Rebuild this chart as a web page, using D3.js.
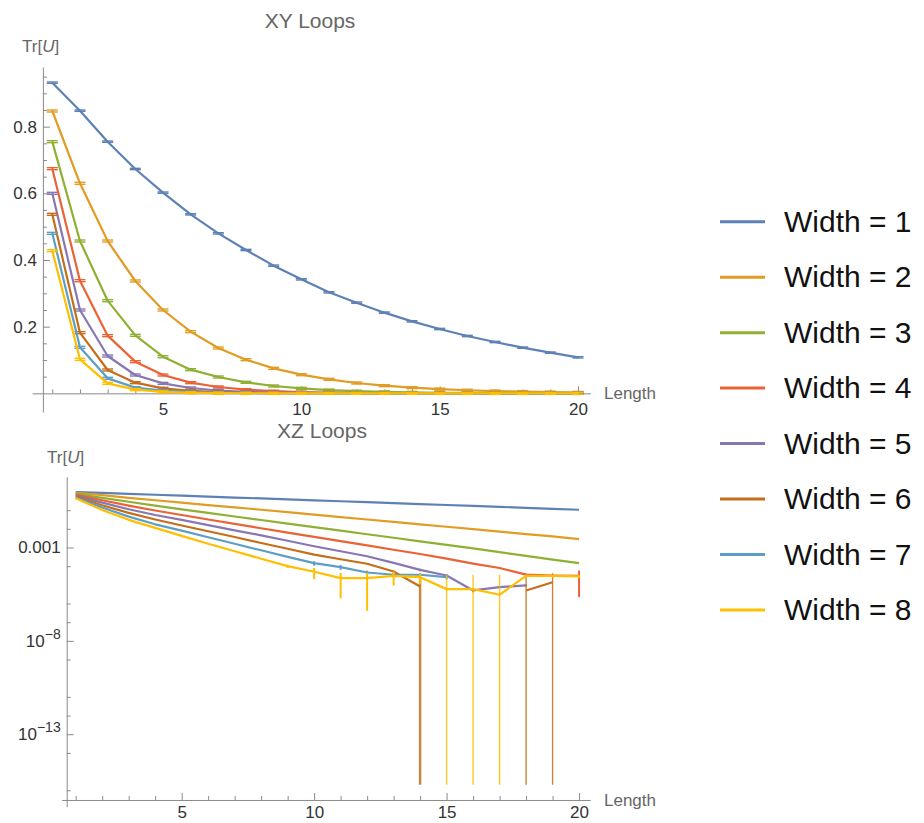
<!DOCTYPE html>
<html><head><meta charset="utf-8">
<script src="https://cdn.jsdelivr.net/npm/d3@7"></script>
<style>
body{margin:0;background:#fff}
svg{display:block}
text{font-family:"Liberation Sans",Arial,sans-serif}
</style>
</head><body>
<svg id="c" width="924" height="823"></svg>
<script>
// ---------------- DATA ----------------
const lengths = [1,2,3,4,5,6,7,8,9,10,11,12,13,14,15,16,17,18,19,20];
const widthLabels = ["Width = 1","Width = 2","Width = 3","Width = 4","Width = 5","Width = 6","Width = 7","Width = 8"];

// XY loops (linear axis)
const xyW1 = [0.932,0.848,0.755,0.673,0.602,0.537,0.48,0.43,0.383,0.342,0.303,0.272,0.242,0.216,0.193,0.172,0.154,0.137,0.122,0.108];
const xyW2 = [0.847,0.63,0.457,0.337,0.25,0.185,0.136,0.101,0.075,0.056,0.042,0.031,0.023,0.017,0.0126,0.0093,0.0069,0.0051,0.0038,0.0028];
const xyW3 = [0.755,0.457,0.278,0.174,0.11,0.071,0.049,0.033,0.022,0.015,0.0098,0.0064,0.0042,0.0027,0.0018,0.0012,0.0008,0.0005,0.0003,0.0002];
const xyW4 = [0.674,0.338,0.173,0.095,0.055,0.032,0.019,0.011,0.0064,0.0037,0.0022,0.0013,0.0008,0.0005,0.0003,0.0002,0.0001,0.00004,0.00003,0.00003];
const xyW5 = [0.60,0.25,0.112,0.055,0.03,0.016,0.0085,0.0045,0.0023,0.0012,0.0006,0.0003,0.00015,0.00006,0.00003,0.00001,0.00001,0.00001,0,0];
const xyW6 = [0.537,0.182,0.07,0.032,0.015,0.0074,0.0036,0.0017,0.0009,0.0004,0.0002,0.0001,0.00005,0.00001,0,0,0,0,0.00001,0];
const xyW7 = [0.48,0.138,0.045,0.017,0.008,0.0036,0.0016,0.0007,0.0003,0.00015,0.00009,0.00005,0.00003,0.00003,0.00003,0,0,0,0,0];
const xyW8 = [0.428,0.102,0.03,0.011,0.0042,0.0016,0.0006,0.00025,0.0001,0.00005,0.00002,0.00002,0.00003,0.00003,0.00001,0.00001,0,0.00003,0.00003,0.00003];
const xyErrByWidth = [0.002,0.003,0.003,0.003,0.003,0.003,0.003,0.003];

// XZ loops (log axis); null = non-positive value, not drawn on log scale
const xzW1 = [0.93,0.84,0.75,0.668,0.595,0.53,0.473,0.422,0.376,0.335,0.298,0.266,0.237,0.211,0.188,0.168,0.149,0.133,0.118,0.105];
const xzW2 = [0.851,0.631,0.457,0.339,0.251,0.186,0.141,0.105,0.0776,0.0575,0.0427,0.0316,0.0234,0.0174,0.0129,0.00955,0.00708,0.00525,0.00389,0.00282];
const xzW3 = [0.759,0.457,0.282,0.174,0.110,0.0708,0.0457,0.0295,0.0191,0.0123,0.00794,0.00513,0.00331,0.00214,0.00138,8.91e-4,5.62e-4,3.55e-4,2.24e-4,1.45e-4];
const xzW4 = [0.676,0.339,0.174,0.0955,0.0550,0.0316,0.0182,0.0107,0.00631,0.00372,0.00219,0.00129,7.59e-4,4.47e-4,2.51e-4,1.38e-4,7.94e-5,3.55e-5,3.16e-5,3.02e-5];
const xzW5 = [0.603,0.251,0.112,0.0550,0.0302,0.0158,0.00832,0.00447,0.00229,0.00117,6.31e-4,3.39e-4,1.51e-4,6.31e-5,3.16e-5,5.01e-6,7.59e-6,9.33e-6,null,null];
const xzW6 = [0.537,0.182,0.0708,0.0316,0.0151,0.00741,0.00363,0.00174,8.51e-4,4.17e-4,2.34e-4,1.35e-4,5.13e-5,8.13e-6,null,null,null,5.01e-6,1.38e-5,null];
const xzW7 = [0.479,0.138,0.0447,0.0174,0.00794,0.00355,0.00158,7.08e-4,3.16e-4,1.45e-4,8.91e-5,4.57e-5,3.47e-5,3.47e-5,2.57e-5,null,null,null,null,null];
const xzW8 = [0.427,0.102,0.0302,0.0112,0.00417,0.00158,6.31e-4,2.51e-4,1.0e-4,5.01e-5,2.29e-5,2.29e-5,3.02e-5,2.57e-5,5.89e-6,5.89e-6,2.95e-6,3.02e-5,3.02e-5,2.82e-5];

const xzErr1 = [0,0,0,0,0,0,0,0,0,0,0,0,0,0,0,0,0,0,0,0];
const xzErr2 = [0,0,0,0,0,0,0,0,0,0,0,0,0,0,0,0,0,0,0,0];
const xzErr3 = [0,0,0,0,0,0,0,0,0,0,0,0,0,0,0,0,0,0,0,0];
const xzErr4 = [0,0,0,0,0,0,0,0,0,0,0,0,0,0,0,0,0,0,0,2.8e-5];
const xzErr5 = [0,0,0,0,0,0,0,0,0,0,0,0,1e-5,1e-5,6e-6,1e-6,1e-6,1e-6,0,0];
const xzErr6 = [0,0,0,0,0,0,0,0,0,0,0,8e-6,6e-6,1.2e-5,0,0,0,3.7e-5,2.8e-5,0];
const xzErr7 = [0,0,0,0,0,0,0,0,1e-5,4e-5,2.5e-5,1.2e-5,8e-6,8e-6,6e-6,0,0,0,0,0];
const xzErr8 = [0,0,0,0,0,0,0,0,2e-5,3e-5,2.1e-5,2.25e-5,2.1e-5,1.5e-5,2.9e-5,2.9e-5,3.2e-5,5e-6,5e-6,5e-6];

const xTicksMinor = [1,2,3,4,6,7,8,9,11,12,13,14,16,17,18,19];
const xTicksMajor = [5,10,15,20];
const xyYTicksMinor = [0.05,0.1,0.15,0.25,0.3,0.35,0.45,0.5,0.55,0.65,0.7,0.75,0.85,0.9,0.95];
const xyYTicksMajor = [0.2,0.4,0.6,0.8];
const xzYTicksMinor = [1e-1,1e-2,1e-4,1e-6,1e-7,1e-9,1e-11,1e-12,1e-14,1e-16];
const xzYTicksMajor = [1e-3,1e-8,1e-13];
const xzYTickLabels = [["0.001",""],["10","\u22128"],["10","\u221213"]];

const colors = ["#5E81B5","#E19C24","#8FB032","#EB6235","#8778B3","#C56E1A","#5D9EC7","#FFBF00"];

const xySeries = [xyW1,xyW2,xyW3,xyW4,xyW5,xyW6,xyW7,xyW8];
const xzSeries = [xzW1,xzW2,xzW3,xzW4,xzW5,xzW6,xzW7,xzW8];
const xzErrors = [xzErr1,xzErr2,xzErr3,xzErr4,xzErr5,xzErr6,xzErr7,xzErr8];

// ---------------- DRAW ----------------
const svg = d3.select('#c');
const axisColor = "#8a8a8a", labelColor = "#666", tickTextColor = "#333";

function styleAxis(g){
  g.selectAll('path.domain').attr('stroke', axisColor).attr('stroke-width',1);
  g.selectAll('.tick line').attr('stroke', axisColor).attr('stroke-width',1);
  g.selectAll('.tick text').attr('fill', tickTextColor).attr('font-size',17)
    .attr('font-family','"Liberation Sans",Arial,sans-serif');
}

// ===== TOP: XY Loops =====
const xT = d3.scaleLinear().domain([0.27, 20.45]).range([32.1, 590.45]);
const yT = d3.scaleLinear().domain([-0.056, 0.979]).range([412, 67]);
const topG = svg.append('g');

const gxT = topG.append('g').attr('transform',`translate(0,${yT(0)})`);
gxT.call(d3.axisBottom(xT).tickValues(xTicksMinor).tickSize(-4).tickSizeOuter(0).tickFormat(''));
const gxT2 = topG.append('g').attr('transform',`translate(0,${yT(0)})`);
gxT2.call(d3.axisBottom(xT).tickValues(xTicksMajor).tickSize(-7).tickSizeOuter(0).tickPadding(10));
gxT2.select('path.domain').remove();
styleAxis(gxT); styleAxis(gxT2);

const gyT = topG.append('g').attr('transform',`translate(${xT(0.66)},0)`);
gyT.call(d3.axisLeft(yT).tickValues(xyYTicksMinor).tickSize(-4).tickSizeOuter(0).tickFormat(''));
const gyT2 = topG.append('g').attr('transform',`translate(${xT(0.66)},0)`);
gyT2.call(d3.axisLeft(yT).tickValues(xyYTicksMajor).tickSize(-7).tickSizeOuter(0).tickPadding(6).tickFormat(d3.format('.1f')));
gyT2.select('path.domain').remove();
styleAxis(gyT); styleAxis(gyT2);

const lineT = d3.line().x((d,i)=>xT(lengths[i])).y(d=>yT(d));
xySeries.forEach((s,k)=>{
  topG.append('path').attr('d', lineT(s)).attr('fill','none')
    .attr('stroke', colors[k]).attr('stroke-width',2.2).attr('stroke-linejoin','round');
  const e = xyErrByWidth[k];
  s.forEach((v,i)=>{
    const cx = xT(lengths[i]);
    [v-e, v+e].forEach(vv=>{
      topG.append('line').attr('x1',cx-5.5).attr('x2',cx+5.5).attr('y1',yT(vv)).attr('y2',yT(vv))
        .attr('stroke',colors[k]).attr('stroke-width',1.4);
    });
    topG.append('line').attr('x1',cx).attr('x2',cx).attr('y1',yT(v-e)).attr('y2',yT(v+e))
      .attr('stroke',colors[k]).attr('stroke-width',1.4);
  });
});

topG.append('text').attr('x',310).attr('y',28).attr('text-anchor','middle')
  .attr('font-size',21).attr('fill',labelColor).text('XY Loops');
const trT = topG.append('text').attr('x',22).attr('y',52).attr('font-size',17).attr('fill',labelColor);
trT.append('tspan').text('Tr[');
trT.append('tspan').attr('font-style','italic').text('U');
trT.append('tspan').text(']');
topG.append('text').attr('x',604).attr('y',yT(0)+6).attr('font-size',17).attr('fill',labelColor).text('Length');

// ===== BOTTOM: XZ Loops =====
const xB = d3.scaleLinear().domain([0.47, 20.42]).range([61.66, 590.2]);
const yB = d3.scaleLog().domain([Math.pow(10,-16.88), Math.pow(10,0.79)]).range([806.7, 476.7]);
const botG = svg.append('g');
const xAxisY = yB(Math.pow(10,-16.52));
const plotBottom = yB(Math.pow(10,-15.7));

svg.append('defs').append('clipPath').attr('id','clipB')
  .append('rect').attr('x',55).attr('y',470).attr('width',560).attr('height',plotBottom-470);

const gxB = botG.append('g').attr('transform',`translate(0,${xAxisY})`);
gxB.call(d3.axisBottom(xB).tickValues(xTicksMinor).tickSize(-4).tickSizeOuter(0).tickFormat(''));
const gxB2 = botG.append('g').attr('transform',`translate(0,${xAxisY})`);
gxB2.call(d3.axisBottom(xB).tickValues(xTicksMajor).tickSize(-7).tickSizeOuter(0).tickPadding(6));
gxB2.select('path.domain').remove();
styleAxis(gxB); styleAxis(gxB2);

const yAxisX = xB(0.66);
const gyB = botG.append('g').attr('transform',`translate(${yAxisX},0)`);
gyB.call(d3.axisLeft(yB).tickValues(xzYTicksMinor).tickSize(-4).tickSizeOuter(0).tickFormat(''));
const gyB2 = botG.append('g').attr('transform',`translate(${yAxisX},0)`);
gyB2.call(d3.axisLeft(yB).tickValues(xzYTicksMajor).tickSize(-7).tickSizeOuter(0).tickFormat(''));
gyB2.select('path.domain').remove();
styleAxis(gyB); styleAxis(gyB2);

xzYTicksMajor.forEach((v,i)=>{
  const t = botG.append('text').attr('x',yAxisX-6).attr('y',yB(v)+6).attr('text-anchor','end')
    .attr('font-size',17).attr('fill',tickTextColor);
  t.append('tspan').text(xzYTickLabels[i][0]);
  if (xzYTickLabels[i][1]) t.append('tspan').attr('font-size',14).attr('dy',-8).text(xzYTickLabels[i][1]);
});

const marks = botG.append('g').attr('clip-path','url(#clipB)');
const lineB = d3.line().defined(d=>d!=null && d>0).x((d,i)=>xB(lengths[i])).y(d=>yB(d));
xzSeries.forEach((s,k)=>{
  const errs = xzErrors[k];
  s.forEach((v,i)=>{
    const e = errs[i];
    if (v==null || !(e>0)) return;
    const lo = v - e > 0 ? yB(v-e) : plotBottom + 5;
    const hi = yB(v+e);
    const big = v - e <= 0;
    marks.append('line').attr('x1',xB(lengths[i])).attr('x2',xB(lengths[i]))
      .attr('y1',hi).attr('y2',lo).attr('stroke',colors[k])
      .attr('stroke-width', big ? (k===5 && i===13 ? 2.4 : 1.4) : 2).attr('opacity', big ? 0.85 : 1);
  });
  marks.append('path').attr('d', lineB(s)).attr('fill','none')
    .attr('stroke', colors[k]).attr('stroke-width',2.2).attr('stroke-linejoin','round');
});

botG.append('text').attr('x',322).attr('y',438).attr('text-anchor','middle')
  .attr('font-size',21).attr('fill',labelColor).text('XZ Loops');
const trB = botG.append('text').attr('x',47).attr('y',463).attr('font-size',17).attr('fill',labelColor);
trB.append('tspan').text('Tr[');
trB.append('tspan').attr('font-style','italic').text('U');
trB.append('tspan').text(']');
botG.append('text').attr('x',604).attr('y',xAxisY+6).attr('font-size',17).attr('fill',labelColor).text('Length');

// ===== LEGEND =====
const legY = d3.scalePoint().domain(widthLabels).range([221.7, 610]);
const leg = svg.append('g');
widthLabels.forEach((lab,k)=>{
  const y = legY(lab);
  leg.append('line').attr('x1',720).attr('x2',765).attr('y1',y).attr('y2',y)
    .attr('stroke',colors[k]).attr('stroke-width',3);
  leg.append('text').attr('x',784).attr('y',y+10).attr('font-size',30).attr('fill','#111').text(lab);
});
</script>
</body></html>
